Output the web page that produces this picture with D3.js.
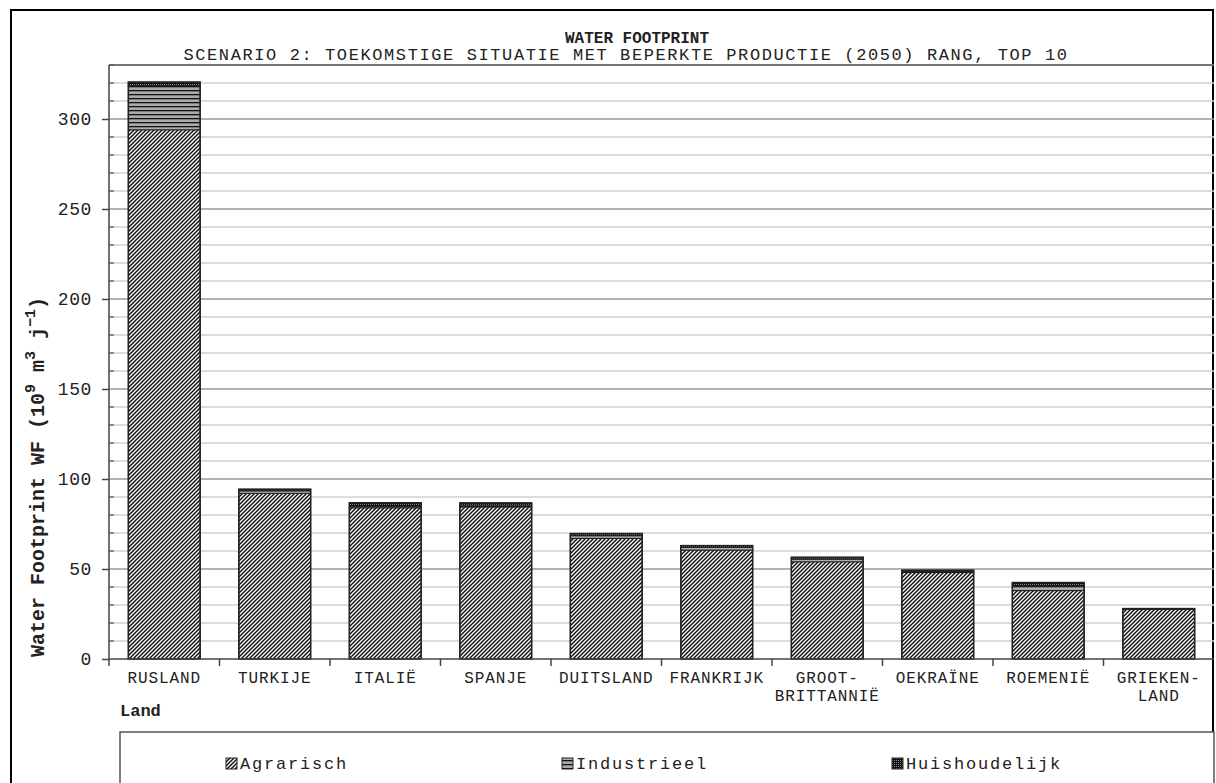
<!DOCTYPE html>
<html>
<head>
<meta charset="utf-8">
<script src="https://cdn.jsdelivr.net/npm/d3@7/dist/d3.min.js"></script>
<style>
  body { margin: 0; background: #fff; }
  svg text { font-family: "Liberation Mono", "DejaVu Sans Mono", monospace; fill: #222; }
</style>
</head>
<body>
<script>
// categories (two-line labels split with "\n")
var landen = ["RUSLAND", "TURKIJE", "ITALIË", "SPANJE", "DUITSLAND", "FRANKRIJK",
              "GROOT-\nBRITTANNIË", "OEKRAÏNE", "ROEMENIË", "GRIEKEN-\nLAND"];
var agrarisch     = [294, 92, 84, 84.5, 67, 60.5, 54, 48, 38, 27.5];
var industrieel   = [24.5, 1.5, 0.8, 1, 1.5, 1.5, 1.5, 0.5, 2.5, 0.3];
var huishoudelijk = [2, 0.8, 2, 1.2, 1.2, 1, 1, 0.8, 2, 0.2];
var yTicks = [0, 50, 100, 150, 200, 250, 300];
var seriesNames = ["Agrarisch", "Industrieel", "Huishoudelijk"];

init();
function init() {
    var W = 1216, H = 783;
    var left = 109, right = 1214, top = 65, bottom = 659;

    var svg = d3.select("body").append("svg")
        .attr("width", W).attr("height", H);

    // fill patterns
    var defs = svg.append("defs");
    var pA = defs.append("pattern").attr("id", "pA")
        .attr("patternUnits", "userSpaceOnUse").attr("width", 4).attr("height", 4);
    pA.append("rect").attr("width", 4).attr("height", 4).attr("fill", "#fff");
    pA.append("path").attr("d", "M-1,1 l2,-2 M0,4 l4,-4 M3,5 l2,-2")
        .attr("stroke", "#111").attr("stroke-width", 1.5);

    var pI = defs.append("pattern").attr("id", "pI")
        .attr("patternUnits", "userSpaceOnUse").attr("width", 4).attr("height", 4);
    pI.append("rect").attr("width", 4).attr("height", 4).attr("fill", "#aaa");
    pI.append("rect").attr("y", 2).attr("width", 4).attr("height", 1.3).attr("fill", "#111");

    var pH = defs.append("pattern").attr("id", "pH")
        .attr("patternUnits", "userSpaceOnUse").attr("width", 2).attr("height", 2);
    pH.append("rect").attr("width", 2).attr("height", 2).attr("fill", "#111");
    pH.append("rect").attr("width", 1).attr("height", 1).attr("fill", "#888");
    var fills = ["url(#pA)", "url(#pI)", "url(#pH)"];

    // outer frame
    svg.append("rect").attr("x", 11).attr("y", 10).attr("width", 1202).attr("height", 800)
        .attr("fill", "none").attr("stroke", "#000").attr("stroke-width", 2);

    // titles
    svg.append("text").attr("x", 637).attr("y", 43).attr("text-anchor", "middle")
        .style("font-weight", "bold").style("font-size", "16px")
        .text("WATER FOOTPRINT");
    svg.append("text").attr("x", 626).attr("y", 60).attr("text-anchor", "middle")
        .style("font-size", "17px").style("letter-spacing", "1.6px").attr("fill", "#333")
        .text("SCENARIO 2: TOEKOMSTIGE SITUATIE MET BEPERKTE PRODUCTIE (2050) RANG, TOP 10");

    var x = d3.scaleBand().domain(landen).range([left, right])
        .paddingInner(0.35).paddingOuter(0.175);
    var y = d3.scaleLinear().domain([0, 330]).range([bottom, top]);

    // gridlines
    var minor = d3.range(10, 331, 10);
    svg.append("g").selectAll("line").data(minor).join("line")
        .attr("x1", left).attr("x2", right)
        .attr("y1", function (d) { return y(d); }).attr("y2", function (d) { return y(d); })
        .attr("stroke", function (d) { return d % 50 === 0 ? "#999" : "#d0d0d0"; })
        .attr("stroke-width", 1.6);

    // minor ticks inward
    svg.append("g").selectAll("line").data(minor.filter(function (d) { return d % 50 !== 0; })).join("line")
        .attr("x1", left).attr("x2", left + 5)
        .attr("y1", function (d) { return y(d); }).attr("y2", function (d) { return y(d); })
        .attr("stroke", "#555").attr("stroke-width", 1.2);

    // stacked bars
    var rows = landen.map(function (l, i) {
        return { land: l, Agrarisch: agrarisch[i], Industrieel: industrieel[i], Huishoudelijk: huishoudelijk[i] };
    });
    var stack = d3.stack().keys(seriesNames)(rows);
    svg.append("g").selectAll("g").data(stack).join("g")
        .attr("fill", function (d, i) { return fills[i]; })
        .selectAll("rect").data(function (d) { return d; }).join("rect")
        .attr("x", function (d) { return x(d.data.land); })
        .attr("width", x.bandwidth())
        .attr("y", function (d) { return y(d[1]); })
        .attr("height", function (d) { return y(d[0]) - y(d[1]); })
        .attr("stroke", "#222").attr("stroke-width", 1);
    // bar outlines
    svg.append("g").selectAll("rect").data(rows).join("rect")
        .attr("x", function (d) { return x(d.land); })
        .attr("width", x.bandwidth())
        .attr("y", function (d) { return y(d.Agrarisch + d.Industrieel + d.Huishoudelijk); })
        .attr("height", function (d) { return y(0) - y(d.Agrarisch + d.Industrieel + d.Huishoudelijk); })
        .attr("fill", "none").attr("stroke", "#222").attr("stroke-width", 1.5);

    // plot frame top
    svg.append("path").attr("d", "M" + left + "," + top + "H" + right)
        .attr("stroke", "#555").attr("stroke-width", 1.5).attr("fill", "none");

    // y axis
    var yAxis = d3.axisLeft(y).tickValues(yTicks).tickSize(7).tickPadding(10);
    var gY = svg.append("g").attr("transform", "translate(" + left + ",0)").call(yAxis);
    gY.select(".domain").attr("stroke", "#444").attr("stroke-width", 1.5)
        .attr("d", "M0," + bottom + "V" + top);
    gY.selectAll(".tick line").attr("stroke", "#444").attr("stroke-width", 1.5);
    gY.selectAll(".tick text").style("font-size", "18px").style("letter-spacing", "0.6px")
        .style("font-family", "'Liberation Mono', monospace").attr("fill", "#333");

    // x axis with boundary ticks
    var gX = svg.append("g").attr("transform", "translate(0," + bottom + ")");
    gX.append("line").attr("x1", left).attr("x2", right).attr("stroke", "#444").attr("stroke-width", 1.5);
    var step = x.step();
    gX.selectAll(".sep").data(landen).join("line").attr("class", "sep")
        .attr("x1", function (d) { return x(d) - step * 0.175; })
        .attr("x2", function (d) { return x(d) - step * 0.175; })
        .attr("y1", 0).attr("y2", 7).attr("stroke", "#444").attr("stroke-width", 1.5);
    var lbl = gX.selectAll(".lbl").data(landen).join("text").attr("class", "lbl")
        .attr("text-anchor", "middle").style("font-size", "16px").style("letter-spacing", "0.9px")
        .attr("fill", "#333")
        .attr("transform", function (d) { return "translate(" + (x(d) + x.bandwidth() / 2) + ",0)"; });
    lbl.selectAll("tspan").data(function (d) { return d.split("\n"); }).join("tspan")
        .attr("x", 0).attr("y", function (d, i) { return 24 + i * 18; })
        .text(function (d) { return d; });

    // axis titles
    svg.append("text").attr("x", 120).attr("y", 716)
        .style("font-weight", "bold").style("font-size", "17px").text("Land");

    var yl = svg.append("text")
        .attr("transform", "translate(44,477) rotate(-90)")
        .attr("text-anchor", "middle")
        .style("font-weight", "bold").style("font-size", "20px");
    yl.append("tspan").text("Water Footprint WF (10");
    yl.append("tspan").attr("dy", -9).style("font-size", "15px").text("9");
    yl.append("tspan").attr("dy", 9).text(" m");
    yl.append("tspan").attr("dy", -9).style("font-size", "15px").text("3");
    yl.append("tspan").attr("dy", 9).text(" j");
    yl.append("tspan").attr("dy", -9).style("font-size", "15px").text("\u22121");
    yl.append("tspan").attr("dy", 9).text(")");

    // legend
    svg.append("rect").attr("x", 120).attr("y", 732).attr("width", 1094).attr("height", 80)
        .attr("fill", "#fff").attr("stroke", "#555").attr("stroke-width", 1.5);
    var legX = [226, 562, 892];
    var leg = svg.append("g").selectAll("g").data(seriesNames).join("g")
        .attr("transform", function (d, i) { return "translate(" + legX[i] + ",758)"; });
    leg.append("rect").attr("width", 11).attr("height", 11)
        .attr("fill", function (d, i) { return fills[i]; })
        .attr("stroke", "#222").attr("stroke-width", 1);
    leg.append("text").attr("x", 14).attr("y", 11)
        .style("font-size", "17px").style("letter-spacing", "1.8px").attr("fill", "#333")
        .text(function (d) { return d; });
}
</script>
</body>
</html>
